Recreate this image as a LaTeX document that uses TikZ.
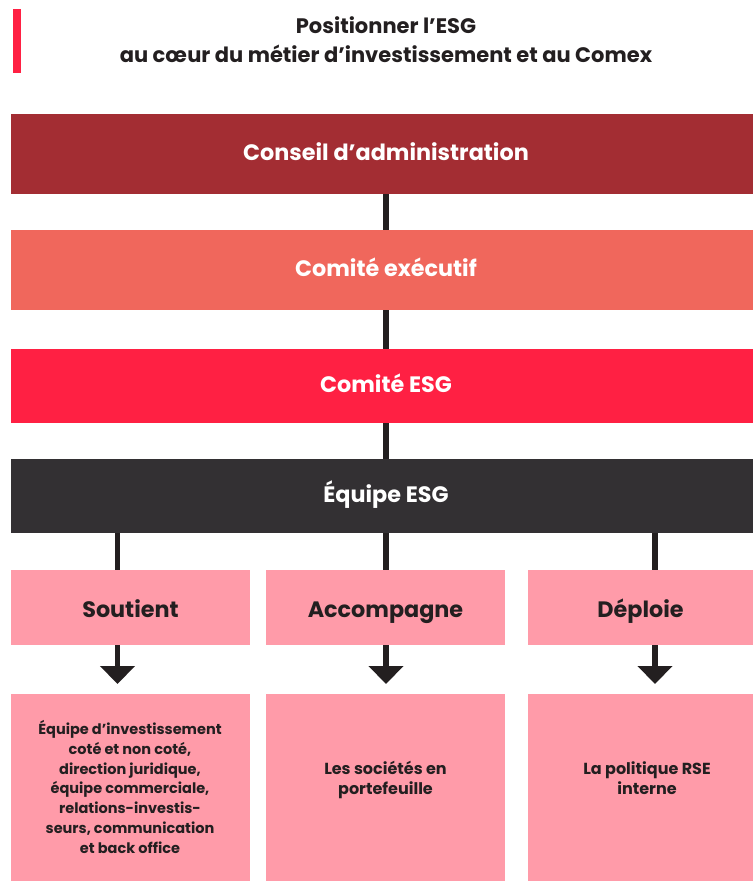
\documentclass[tikz,border=0pt]{standalone}
\usepackage{fontspec}
\setmainfont{Poppins}
\usetikzlibrary{arrows.meta,calc}
\definecolor{conseil}{HTML}{A32D33}
\definecolor{comex}{HTML}{F0675C}
\definecolor{cesg}{HTML}{FF2043}
\definecolor{equipe}{HTML}{333033}
\definecolor{pinkbox}{HTML}{FF9BA9}
\definecolor{ink}{HTML}{231F20}
\begin{document}
\begin{tikzpicture}[x=1pt,y=-1pt,
  band/.style={rectangle,anchor=north west,minimum width=742pt,minimum height=#1,inner sep=0pt},
  verb/.style={rectangle,anchor=north west,fill=pinkbox,minimum height=75pt,inner sep=0pt},
  target/.style={rectangle,anchor=north west,fill=pinkbox,minimum height=187pt,inner sep=0pt},
  bandtext/.style={anchor=base,inner sep=0pt,text=white,font=\fontsize{22.3}{26}\selectfont\bfseries},
  verbtext/.style={anchor=base,inner sep=0pt,text=ink,font=\fontsize{22.3}{26}\selectfont\bfseries},
  tlabel/.style={anchor=base,align=center,text=ink,inner sep=0pt,font=\fontsize{#1}{19.7}\selectfont\bfseries},
  link/.style={draw=ink,line width=5.5pt},
  arrowlink/.style={link,-{Triangle[width=34pt,length=18pt]},shorten >=10pt}
]
\useasboundingbox (0,0) rectangle (753,881);
% accent bar
\fill[cesg] (13,9) rectangle (21,73);
% title
\node[anchor=base,text=ink,font=\fontsize{21}{29}\selectfont\bfseries,align=center,inner sep=0pt] (title) at (386,62)
  {Positionner l’ESG\\au cœur du métier d’investissement et au Comex};
% bands
\node[band=80pt,fill=conseil] (cons) at (11,114) {};
\node[band=80pt,fill=comex] (comex) at (11,230) {};
\node[band=74pt,fill=cesg] (cesg) at (11,349) {};
\node[band=74pt,fill=equipe] (equipe) at (11,459) {};
\node[bandtext] (consL) at (386,160) {Conseil d’administration};
\node[bandtext] (comexL) at (386,276) {Comité exécutif};
\node[bandtext] (cesgL) at (386,392) {Comité ESG};
\node[bandtext] (equipeL) at (386,502) {Équipe ESG};
% vertical spine
\coordinate (c1) at (117.5,0);
\coordinate (c2) at (386,0);
\coordinate (c3) at (655,0);
\draw[link] (cons.south -| c2) -- (comex.north -| c2);
\draw[link] (comex.south -| c2) -- (cesg.north -| c2);
\draw[link] (cesg.south -| c2) -- (equipe.north -| c2);
% verb boxes
\node[verb,minimum width=239pt] (s1) at (11,570) {};
\node[verb,minimum width=239pt] (s2) at (266,570) {};
\node[verb,minimum width=225pt] (s3) at (528,570) {};
\node[verbtext] (s1L) at (130.5,617) {Soutient};
\node[verbtext] (s2L) at (385.5,617) {Accompagne};
\node[verbtext] (s3L) at (640.5,617) {Déploie};
\draw[link] (equipe.south -| c1) -- (s1.north -| c1);
\draw[link] (equipe.south -| c2) -- (s2.north -| c2);
\draw[link] (equipe.south -| c3) -- (s3.north -| c3);
% target boxes
\node[target,minimum width=239pt] (t1) at (11,694) {};
\node[target,minimum width=239pt] (t2) at (266,694) {};
\node[target,minimum width=225pt] (t3) at (528,694) {};
\draw[arrowlink] (s1.south -| c1) -- (t1.north -| c1);
\draw[arrowlink] (s2.south -| c2) -- (t2.north -| c2);
\draw[arrowlink] (s3.south -| c3) -- (t3.north -| c3);
\node[tlabel=14.5] (t1L) at (130,853) {Équipe d’investissement\\coté et non coté,\\direction juridique,\\équipe commerciale,\\relations-investis-\\seurs, communication\\et back office};
\node[tlabel=16] (t2L) at (385.5,794) {Les sociétés en\\portefeuille};
\node[tlabel=16] (t3L) at (647,794) {La politique RSE\\interne};
\end{tikzpicture}
\end{document}
